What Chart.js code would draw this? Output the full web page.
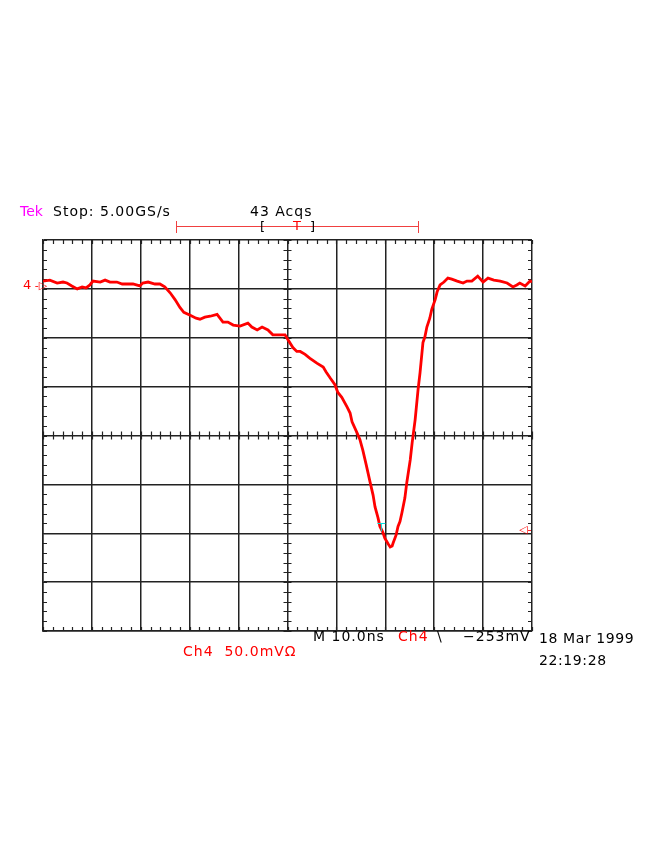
<!DOCTYPE html>
<html>
<head>
<meta charset="utf-8">
<script src="https://cdn.jsdelivr.net/npm/chart.js@4/dist/chart.umd.min.js"></script>
<style>
  body { margin: 0; background: #fff; }
  #wrap { position: relative; width: 664px; height: 860px; }
  .t { position: absolute; font-family: "DejaVu Sans", sans-serif; font-size: 14px; line-height: 14px; letter-spacing: 1px; white-space: pre; color: #000; }
  .red { color: #ff0000; }
  .mag { color: #ff00ff; }
  #rec { position: absolute; left: 176px; top: 226px; width: 243px; height: 0; border-top: 1.5px solid #f04040; }
  .cap { position: absolute; top: 221px; width: 0; height: 12px; border-left: 1.5px solid #f04040; }
</style>
</head>
<body>
<div id="wrap">
  <canvas id="scope" width="664" height="860"></canvas>

  <div class="t mag" style="left:20px;top:204px;letter-spacing:0">Tek</div>
  <div class="t" style="left:53px;top:204px">Stop: 5.00GS/s</div>
  <div class="t" style="left:250px;top:204px">43 Acqs</div>
  <div id="rec"></div>
  <div class="cap" style="left:176px"></div>
  <div class="cap" style="left:418px"></div>
  <div class="t" style="left:260px;top:220px;font-size:13px">[</div>
  <div class="t red" style="left:293px;top:219px;font-size:13px">T</div>
  <div class="t" style="left:310px;top:220px;font-size:13px">]</div>

  <div class="t red" style="left:23px;top:278px;font-size:13px;letter-spacing:0">4<span style="font-size:11px"> -▷</span></div>
  <div class="t red" style="left:519px;top:523px;font-size:11px;letter-spacing:0">◁-</div>

  <div class="t" style="left:313px;top:629px">M 10.0ns</div>
  <div class="t red" style="left:398px;top:629px">Ch4</div>
  <div class="t" style="left:437px;top:629px">\</div>
  <div class="t" style="left:463px;top:629px">−253mV</div>
  <div class="t" style="left:539px;top:631px;letter-spacing:0.6px">18 Mar 1999</div>
  <div class="t" style="left:539px;top:653px;letter-spacing:0.6px">22:19:28</div>
  <div class="t red" style="left:183px;top:644px">Ch4  50.0mVΩ</div>
</div>

<script>
// time (ns) and Ch4 voltage (mV, relative to the channel ground marker)
const timeNs = [
    0, 1.4, 2.9, 4.1, 4.9, 5.9, 7.0, 8.0, 8.8, 9.6, 10.2, 11.7, 12.7, 13.7, 15.1, 16.2, 17.4, 18.4, 19.8, 20.4,
    21.5, 22.9, 23.9, 24.9, 26.0, 27.0, 28.0, 28.8, 30.1, 31.3, 32.1, 33.1, 34.2, 35.6, 36.8, 37.8, 38.9, 40.3,
    41.9, 42.7, 43.8, 44.8, 46.0, 47.0, 48.5, 49.5, 50.1, 51.1, 51.9, 52.6, 53.6, 54.6, 56.0, 57.3, 57.9, 58.7,
    59.7, 60.3, 61.1, 62.2, 62.8, 63.2, 64.2, 64.8, 65.4, 66.1, 66.9, 67.5, 67.9, 68.5, 68.9, 69.5, 69.9, 70.6,
    71.0, 71.4, 71.6, 72.2, 72.6, 73.0, 73.4, 74.0, 74.4, 75.1, 75.5, 76.1, 76.7, 77.1, 77.7, 78.1, 78.5, 79.1,
    79.5, 80.2, 80.6, 81.2, 82.0, 82.8, 83.6, 84.7, 85.9, 86.7, 87.7, 88.9, 90.0, 91.0, 92.2, 93.5, 94.9, 96.1,
    96.9, 97.5, 98.6, 99.2, 99.6, 100
];
const ch4mV = [
    8, 9, 6, 7, 6, 3, 0, 2, 1, 4, 8, 7, 9, 7, 7, 5, 5, 5, 3, 6,
    7, 5, 5, 2, -4, -11, -19, -24, -27, -30, -31, -29, -28, -26, -34, -34, -37, -38,
    -35, -39, -42, -39, -42, -47, -47, -47, -52, -60, -64, -64, -67, -71, -76, -80, -85, -91,
    -98, -106, -111, -121, -127, -136, -147, -154, -165, -180, -198, -211, -223, -234, -243, -249, -255, -261,
    -264, -263, -260, -252, -243, -238, -229, -214, -198, -175, -157, -134, -103, -86, -55, -49, -39, -30,
    -21, -11, -3, 4, 7, 11, 10, 8, 6, 8, 8, 13, 7, 11, 9, 8, 6, 2,
    4, 6, 3, 6, 8, 7
];
// screen: 10 divisions of 10 ns, 8 divisions of 50 mV
const xMin = 0, xMax = 100, xStep = 10;
const yMin = -350, yMax = 50, yStep = 50;

const points = timeNs.map((t, i) => ({ x: t, y: ch4mV[i] }));

// minor ticks on the frame and on the centre cross, 5 per division
const minorTicks = {
    id: 'minorTicks',
    beforeDatasetsDraw(chart) {
        const { ctx, chartArea: a, scales: { x, y } } = chart;
        const cx = x.getPixelForValue((xMin + xMax) / 2);
        const cy = y.getPixelForValue((yMin + yMax) / 2);
        ctx.save();
        ctx.strokeStyle = '#222';
        ctx.lineWidth = 1.2;
        ctx.beginPath();
        for (let t = xMin; t <= xMax; t += xStep / 5) {
            const px = Math.round(x.getPixelForValue(t)) + 0.5;
            ctx.moveTo(px, a.top); ctx.lineTo(px, a.top + 4);
            ctx.moveTo(px, a.bottom); ctx.lineTo(px, a.bottom - 4);
            ctx.moveTo(px, cy - 4); ctx.lineTo(px, cy + 4);
        }
        for (let v = yMin; v <= yMax; v += yStep / 5) {
            const py = Math.round(y.getPixelForValue(v)) + 0.5;
            ctx.moveTo(a.left, py); ctx.lineTo(a.left + 4, py);
            ctx.moveTo(a.right, py); ctx.lineTo(a.right - 4, py);
            ctx.moveTo(cx - 4, py); ctx.lineTo(cx + 4, py);
        }
        ctx.stroke();
        ctx.restore();
    },
    afterDatasetsDraw(chart) {
        // small cyan trigger-point mark
        const { ctx, scales: { x, y } } = chart;
        const px = x.getPixelForValue(69.2), py = y.getPixelForValue(-240);
        ctx.save();
        ctx.strokeStyle = '#00e0e0';
        ctx.lineWidth = 1;
        ctx.beginPath();
        ctx.moveTo(px - 4, py); ctx.lineTo(px + 4, py);
        ctx.moveTo(px, py); ctx.lineTo(px, py + 8);
        ctx.stroke();
        ctx.restore();
    }
};

const ctx = document.getElementById('scope').getContext('2d');
new Chart(ctx, {
    type: 'line',
    data: {
        datasets: [{
            data: points,
            borderColor: '#ff0000',
            borderWidth: 2.8,
            pointRadius: 0,
            tension: 0,
            fill: false
        }]
    },
    options: {
        responsive: false,
        animation: false,
        layout: { padding: { left: 43, top: 240, right: 132, bottom: 229 } },
        plugins: { legend: { display: false }, tooltip: { enabled: false } },
        scales: {
            x: {
                type: 'linear', min: xMin, max: xMax,
                ticks: { display: false, stepSize: xStep },
                grid: { color: '#222', lineWidth: 1.5, drawTicks: false },
                border: { color: '#222', width: 1.5 }
            },
            y: {
                type: 'linear', min: yMin, max: yMax,
                ticks: { display: false, stepSize: yStep },
                grid: { color: '#222', lineWidth: 1.5, drawTicks: false },
                border: { color: '#222', width: 1.5 }
            }
        }
    },
    plugins: [minorTicks]
});
</script>
</body>
</html>
